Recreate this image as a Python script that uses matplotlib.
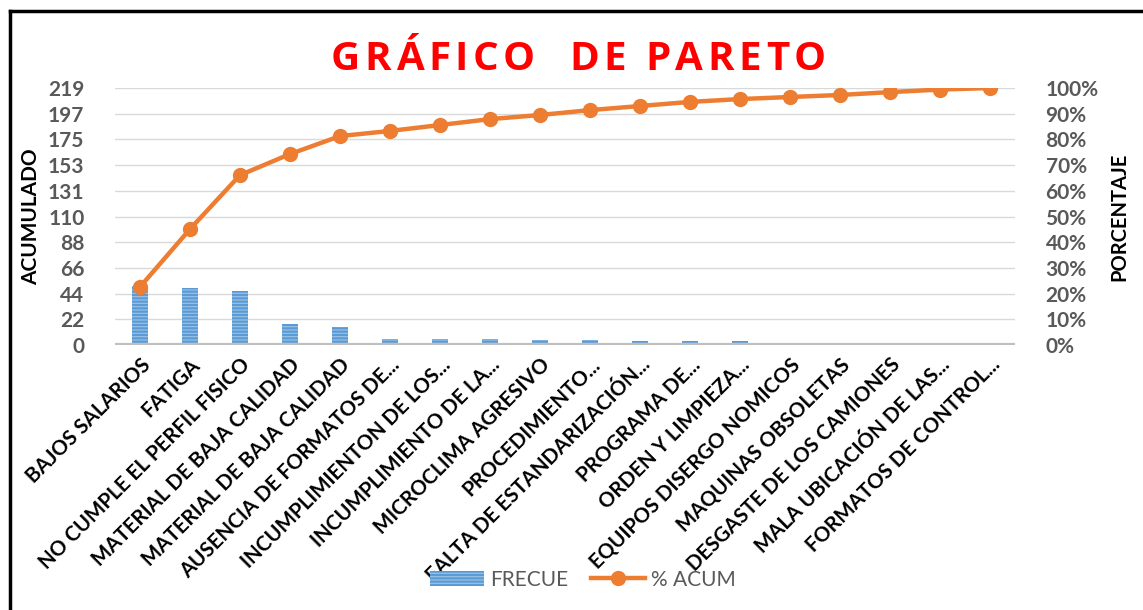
import numpy as np
import matplotlib.pyplot as plt
from matplotlib.lines import Line2D

categorias = ["BAJOS SALARIOS",
              "FATIGA",
              "NO CUMPLE EL PERFIL FISICO",
              "MATERIAL DE BAJA CALIDAD",
              "MATERIAL DE BAJA CALIDAD",
              "AUSENCIA DE FORMATOS DE...",
              "INCUMPLIMIENTON DE LOS...",
              "INCUMPLIMIENTO DE LA...",
              "MICROCLIMA AGRESIVO",
              "PROCEDIMIENTO...",
              "FALTA DE ESTANDARIZACIÓN...",
              "PROGRAMA DE...",
              "ORDEN Y LIMPIEZA...",
              "EQUIPOS DISERGO NOMICOS",
              "MAQUINAS OBSOLETAS",
              "DESGASTE DE LOS CAMIONES",
              "MALA UBICACIÓN DE LAS...",
              "FORMATOS DE CONTROL..."]
frecuencia = [50, 49, 46, 18, 15, 5, 5, 5, 4, 4, 3, 3, 3, 2, 2, 2, 2, 1]
pct_acum = [22.6, 45.1, 66.1, 74.3, 81.3, 83.3, 85.6, 87.9, 89.5,
            91.4, 93.0, 94.6, 95.7, 96.5, 97.3, 98.4, 99.4, 100.0]

total = sum(frecuencia)
left_ticks = np.linspace(0, total, 11)
right_ticks = [0, 10, 20, 30, 40, 50, 60, 70, 80, 90, 100]

plt.rcParams['font.family'] = ['Lato', 'DejaVu Sans']
plt.rcParams['hatch.linewidth'] = 1.6


def titulo_espaciado(fig, xc, y, s, extra_px, **kw):
    # texto con espaciado entre letras (como en Excel)
    r = fig.canvas.get_renderer()
    def ancho(txt):
        t = fig.text(0, 0, txt, **kw)
        w = t.get_window_extent(r).width
        t.remove()
        return w
    w_space = ancho("H H") - ancho("HH")
    widths = [w_space if ch == " " else ancho(ch) for ch in s]
    total_w = sum(widths) + extra_px * (len(s) - 1)
    W = fig.get_size_inches()[0] * fig.dpi
    x0 = xc * W - total_w / 2
    for ch, w in zip(s, widths):
        if ch != " ":
            fig.text(x0 / W, y, ch, ha='left', va='center', **kw)
        x0 += w + extra_px


fig = plt.figure(figsize=(11.43, 6.10), dpi=100)
ax = fig.add_axes([0.1006, 0.4344, 0.7874, 0.4213])
ax2 = ax.twinx()

x = np.arange(len(categorias))
bars = ax.bar(x, frecuencia, width=0.32, color='#9DC3E6',
              edgecolor='#5B9BD5', linewidth=0, hatch='-----', zorder=2)

ax2.plot(x, pct_acum, color='#ED7D31', linewidth=3.2, marker='o',
         markersize=10, zorder=3)

ax.set_xlim(-0.5, len(categorias) - 0.5)
ax.set_ylim(0, total)
ax2.set_ylim(0, 100)

ax.set_yticks(left_ticks)
ax.set_yticklabels([f"{v:.0f}" for v in left_ticks])
ax2.set_yticks(right_ticks)
ax2.set_yticklabels([f"{v}%" for v in right_ticks])

ax.set_xticks(x)
ax.set_xticklabels(categorias, rotation=45, ha='right',
                   rotation_mode='anchor', fontweight='bold', fontsize=14.8)

for a in (ax, ax2):
    for s in ['top', 'left', 'right', 'bottom']:
        a.spines[s].set_visible(False)
    a.tick_params(length=0)

ax.axhline(0, color='#BFBFBF', linewidth=3, zorder=4)
ax.grid(axis='y', color='#D9D9D9', linewidth=1, zorder=0)
ax.set_axisbelow(True)
ax.tick_params(axis='y', pad=22, labelsize=15, labelcolor='#595959')
ax.tick_params(axis='x', pad=7)
for t in ax.get_yticklabels():
    t.set_fontweight('bold')
ax2.tick_params(axis='y', pad=22, labelsize=15, labelcolor='#595959')
for t in ax2.get_yticklabels():
    t.set_fontweight('bold')

ax.set_ylabel("ACUMULADO", fontsize=15, fontweight='bold', labelpad=5)
ax2.set_ylabel("PORCENTAJE", fontsize=14.5, fontweight='bold', labelpad=8)

titulo_espaciado(fig, 0.506, 0.902, "GRÁFICO  DE PARETO", 4.5,
                 color='#FF0000', fontsize=29, fontweight='bold',
                 family=['Open Sans', 'DejaVu Sans'])

handles = [bars,
           Line2D([], [], color='#ED7D31', linewidth=3.2, marker='o',
                  markersize=10)]
fig.legend(handles, ["FRECUE", "% ACUM"], loc='center',
           bbox_to_anchor=(0.51, 0.05), ncol=2, frameon=False,
           fontsize=15, labelcolor='#595959', handlelength=2.6,
           columnspacing=1.1, handletextpad=0.3)

# marco del grafico
fig.add_artist(Line2D([0.009, 0.009], [0.0, 0.982], color='black',
                      linewidth=2.5, transform=fig.transFigure))
fig.add_artist(Line2D([0.009, 1.0], [0.982, 0.982], color='black',
                      linewidth=2.5, transform=fig.transFigure))

fig.savefig("out.png", dpi=100)
